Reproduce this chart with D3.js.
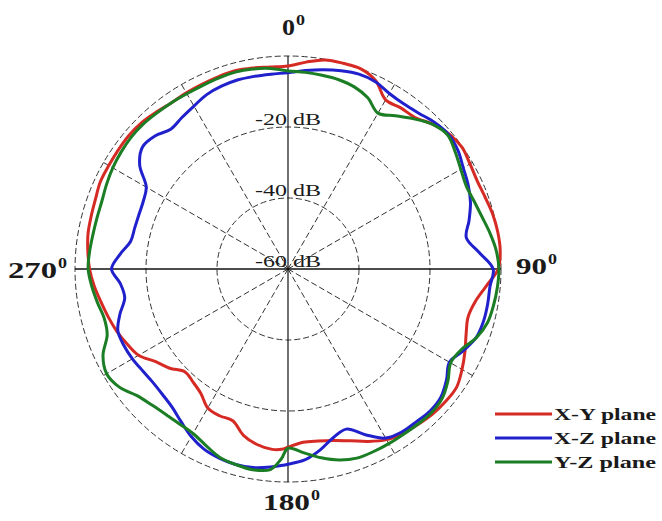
<!DOCTYPE html>
<html>
<head>
<meta charset="utf-8">
<script src="https://cdn.jsdelivr.net/npm/d3@7"></script>
<style>
  body { margin: 0; background: #fff; }
  svg { display: block; }
</style>
</head>
<body>
<svg id="chart" width="662" height="521"></svg>
<script>
// Measurement angles (degrees, clockwise from 0° at the top)
const angles = [
  0, 5, 10, 15, 20, 25, 30, 35, 40, 45, 50, 55, 60, 65, 70, 75, 80, 85, 90,
  95, 100, 105, 110, 115, 120, 125, 130, 135, 140, 145, 150, 155, 160, 165, 170, 175, 180,
  182,
  185, 190, 195, 200, 205, 210, 215, 220, 225, 230, 235, 240, 245, 250, 255, 260, 265, 270,
  275, 280, 285, 290, 295, 300, 305, 310, 315, 320, 325, 330, 335, 340, 345, 350, 355
];

// Normalised gain (dB) in each cut plane
const xyPlane = [
  -2.8, -1.5, -0.2, 0, 0, -1.5, -5, -4.6, -4.3, -2.3, -0.8, -0.2, -0.8, -1.2, -0.9, -0.3, 0, 0, -0.8,
  -4, -6.5, -7.5, -6.6, -5, -3.4, -2, -2, -2.3, -2.9, -3.5, -4.5, -6.4, -8.5, -10, -10.8, -11, -9.8,
  -9.2,
  -9, -9.8, -11.5, -14.5, -14.4, -14.8, -17.2, -18.4, -19, -16.5, -14.5, -11.4, -10, -8.7, -7.6, -6.5, -5.2, -4.1,
  -3.4, -2.8, -2.6, -2.3, -1.7, -1.7, -1.6, -1.5, -1.7, -2.3, -2.8, -2.7, -2.6, -2.4, -2.2, -2.5, -2.9
];
const xzPlane = [
  -4.7, -3.9, -3, -2.2, -1.6, -1.8, -2.9, -3.2, -2.7, -1.6, -1, -1.6, -3, -4, -5.3, -7.2, -9, -6, -2.2,
  -2.9, -2.9, -3, -3.6, -5.5, -7.5, -5.5, -3.8, -3.4, -3.8, -4, -5, -8.5, -12, -10.8, -8.2, -6, -5,
  -4.6,
  -4, -3.2, -3, -3.3, -4, -5.5, -7.5, -9.2, -10, -10.3, -10, -9.4, -9, -9, -11, -13.3, -12.6, -10.3,
  -12.5, -15, -15.3, -15.3, -15, -13.9, -9, -6.5, -7, -8.6, -7.9, -7, -5.8, -5.2, -4.9, -4.9, -4.9
];
const yzPlane = [
  -4.2, -4.4, -4.6, -4.8, -5.4, -6.8, -9.3, -7.3, -4.8, -2.4, -1.3, -2.5, -3.8, -4.6, -4.2, -3.4, -2.2, -1.1, -0.6,
  -0.8, -1.2, -1.8, -3.5, -6.2, -7.1, -5, -3.3, -2.8, -3, -3.2, -3.2, -3.2, -3.3, -4.3, -6, -8, -9.5,
  -6.5,
  -3.3, -2.6, -3, -3.6, -5.2, -6.5, -6.7, -6.5, -5.8, -4.5, -2, -1, -2.5, -5.8, -6.4, -5.5, -4.5, -3.7,
  -3.9, -4.2, -4.3, -4.2, -3.6, -3, -2.6, -2.3, -2.3, -2.6, -2.8, -3, -3, -2.8, -2.6, -2.8, -3.3
];

const seriesNames = ["X-Y plane", "X-Z plane", "Y-Z plane"];
const gridLevels = [-40, -20, 0];
const levelLabels = ["-60 dB", "-40 dB", "-20 dB"];
const levelLabelValues = [-60, -40, -20];
const spokeAngles = [30, 60, 120, 150, 210, 240, 300, 330];
const axisLabels = ["0", "90", "180", "270"];

const svg = d3.select("#chart");
const cx = 288, cy = 269, R = 213;
const colors = ["#d62a24", "#2020cc", "#1b7d24"];
const serif = "'Liberation Serif', 'Times New Roman', serif";

const r = d3.scaleLinear().domain([-60, 0]).range([0, R]);
const toRad = d => d * Math.PI / 180;

const g = svg.append("g").attr("transform", `translate(${cx},${cy})`);

// Dashed level rings
g.selectAll("circle.ring").data(gridLevels).join("circle")
  .attr("class", "ring")
  .attr("r", d => r(d))
  .attr("fill", "none")
  .attr("stroke", "#333")
  .attr("stroke-width", 1)
  .attr("stroke-dasharray", "6,3");

// Dashed spokes every 30°
g.selectAll("line.spoke").data(spokeAngles).join("line")
  .attr("class", "spoke")
  .attr("x1", 0).attr("y1", 0)
  .attr("x2", d => R * Math.sin(toRad(d)))
  .attr("y2", d => -R * Math.cos(toRad(d)))
  .attr("stroke", "#333")
  .attr("stroke-width", 1)
  .attr("stroke-dasharray", "6,3");

// Solid main axes
g.append("line").attr("x1", -R).attr("x2", R).attr("y1", 0).attr("y2", 0)
  .attr("stroke", "#111").attr("stroke-width", 1.6);
g.append("line").attr("y1", -R).attr("y2", R).attr("x1", 0).attr("x2", 0)
  .attr("stroke", "#111").attr("stroke-width", 1.2);

// Level labels on the vertical axis
g.selectAll("text.level").data(levelLabelValues).join("text")
  .attr("class", "level")
  .attr("x", 0)
  .attr("y", d => -r(d) - 2)
  .attr("text-anchor", "middle")
  .attr("font-family", serif)
  .attr("font-size", 17)
  .attr("fill", "#1a1a1a")
  .attr("textLength", 66)
  .attr("lengthAdjust", "spacingAndGlyphs")
  .text((d, i) => levelLabels[i]);

// Pattern curves
const radial = d3.lineRadial()
  .angle(d => toRad(d.a))
  .radius(d => r(d.v))
  .curve(d3.curveCatmullRomClosed.alpha(0.5));

[xyPlane, xzPlane, yzPlane].forEach((vals, i) => {
  const pts = angles.map((a, k) => ({ a, v: vals[k] }));
  g.append("path")
    .attr("d", radial(pts))
    .attr("fill", "none")
    .attr("stroke", colors[i])
    .attr("stroke-width", 3)
    .attr("stroke-linejoin", "round");
});

// Angle labels with superscript zero
const labelPos = [
  { x: 282, y: 35, w: 13 },
  { x: 516, y: 274, w: 31 },
  { x: 263, y: 510, w: 47 },
  { x: 8, y: 278, w: 49 }
];
axisLabels.forEach((t, i) => {
  const p = labelPos[i];
  svg.append("text")
    .attr("x", p.x).attr("y", p.y)
    .attr("font-family", serif).attr("font-weight", "bold")
    .attr("font-size", 23).attr("fill", "#1a1a1a")
    .attr("textLength", p.w).attr("lengthAdjust", "spacingAndGlyphs")
    .text(t);
  svg.append("text")
    .attr("x", p.x + p.w + 1).attr("y", p.y - 10)
    .attr("font-family", serif).attr("font-weight", "bold")
    .attr("font-size", 15).attr("fill", "#1a1a1a")
    .attr("textLength", 9).attr("lengthAdjust", "spacingAndGlyphs")
    .text("0");
});

// Legend
const legend = svg.append("g").attr("transform", "translate(495,414)");
seriesNames.forEach((name, i) => {
  const row = legend.append("g").attr("transform", `translate(0,${i * 24})`);
  row.append("line").attr("x1", 0).attr("x2", 57).attr("y1", 0).attr("y2", 0)
    .attr("stroke", colors[i]).attr("stroke-width", 3);
  row.append("text").attr("x", 59).attr("y", 6)
    .attr("font-family", serif).attr("font-weight", "bold")
    .attr("font-size", 16).attr("fill", "#1a1a1a")
    .attr("textLength", 102).attr("lengthAdjust", "spacingAndGlyphs")
    .text(name);
});
</script>
</body>
</html>
